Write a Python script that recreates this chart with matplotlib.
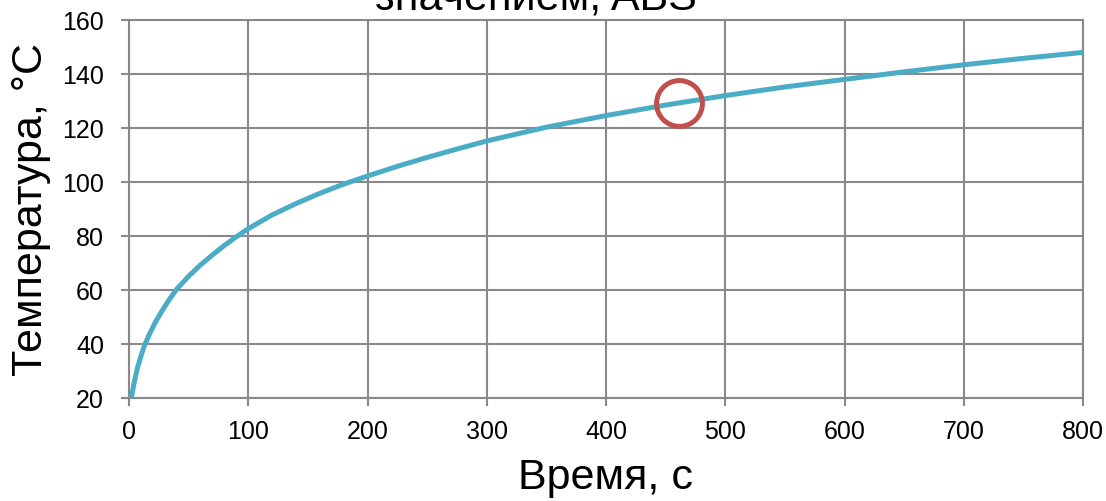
import matplotlib.pyplot as plt

time_s = [2, 4, 7, 10, 13, 17, 22, 28, 34, 40, 50, 60, 70, 80, 90, 100,
          120, 140, 160, 180, 200, 225, 250, 275, 300, 350, 400, 450, 500,
          550, 600, 650, 700, 750, 800]
temp_c = [20, 25, 31, 35.5, 39.5, 43.5, 48, 52.5, 56.6, 60.3, 65.1, 69.3,
          73.0, 76.5, 79.7, 82.7, 87.8, 92, 95.8, 99.2, 102.2, 105.8, 109.1,
          112.2, 115.2, 120.3, 124.6, 128.5, 132, 135.2, 138, 140.8, 143.4,
          145.8, 148]
mark_x = [461]
mark_y = [129.1]

x_ticks = [0, 100, 200, 300, 400, 500, 600, 700, 800]
y_ticks = [20, 40, 60, 80, 100, 120, 140, 160]

title = 'значением, ABS'
xlabel = 'Время, с'
ylabel = 'Температура, °C'

plt.rcParams['font.family'] = ['Liberation Sans', 'DejaVu Sans']

grid_col = '#898989'


def plot_curve():
    fig = plt.figure(figsize=(11.06, 5.01), dpi=100)
    ax = fig.add_axes([129 / 1106, 1 - 398 / 501, 954 / 1106, 378 / 501])

    ax.plot(time_s, temp_c, '-', color='#4BACC6', lw=3.6,
            solid_capstyle='round', solid_joinstyle='round', zorder=3)
    ax.plot(mark_x, mark_y, 'o', ms=33, mfc='none', mec='#C0504D',
            mew=3.6, zorder=4)

    ax.set_xlim(0, 800)
    ax.set_ylim(20, 160)
    ax.set_xticks(x_ticks)
    ax.set_yticks(y_ticks)
    ax.grid(True, color=grid_col, lw=1.5)
    ax.set_axisbelow(True)
    for s in ax.spines.values():
        s.set_color(grid_col)
        s.set_linewidth(1.5)
    ax.tick_params(direction='out', length=6, width=1.5, color=grid_col,
                   labelsize=18)
    ax.tick_params(axis='y', pad=12)
    ax.tick_params(axis='x', pad=10)

    ax.set_xlabel(xlabel, fontsize=31, labelpad=10)
    ax.set_ylabel(ylabel, fontsize=31, labelpad=8)
    # the title is cut by the top edge in the original too
    fig.text(536 / 1106, 1 - 9.5 / 501, title, ha='center', va='baseline',
             fontsize=31)
    return fig


if __name__ == "__main__":
    fig = plot_curve()
    fig.savefig('out.png', dpi=100)
